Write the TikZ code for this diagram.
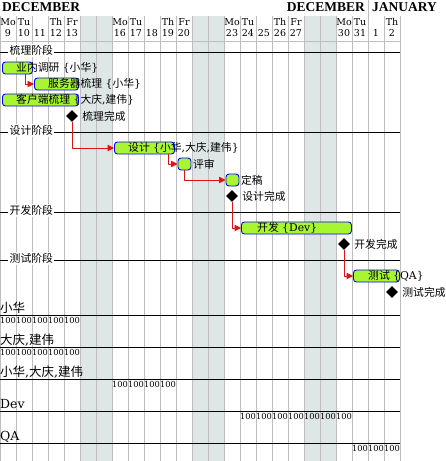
\documentclass[tikz,border=0pt]{standalone}
\usepackage{fontspec}
\setmainfont{DejaVu Serif}
\newfontfamily\cjk{Noto Sans CJK SC}
\newfontfamily\monthfont{Liberation Serif}
\usetikzlibrary{shapes.geometric,arrows.meta,positioning}

\definecolor{weekendgray}{RGB}{223,230,230}
\definecolor{gridgray}{RGB}{190,190,190}
\definecolor{barfill}{RGB}{168,245,50}
\definecolor{depred}{RGB}{220,20,20}

\begin{document}
\begin{tikzpicture}[x=1pt, y=-1pt, line join=round,
  gridline/.style={draw=gridgray, line width=0.8pt},
  weekend/.style={fill=weekendgray},
  rowline/.style={draw=black, line width=0.9pt},
  taskbar/.style={draw=blue, fill=barfill, line width=0.9pt, rounded corners=3pt,
    minimum height=12pt, inner sep=0pt, anchor=west},
  tasklabel/.style={font=\fontsize{10.8}{11}\selectfont, inner sep=0pt, anchor=west},
  phaselabel/.style={font=\cjk\fontsize{10.8}{11}\selectfont, fill=white, inner sep=1.5pt, anchor=west},
  reslabel/.style={font=\fontsize{12.5}{13}\selectfont, inner sep=0pt, anchor=base west},
  loadnum/.style={font=\fontsize{8.3}{9}\selectfont, inner sep=0pt, anchor=base},
  monthname/.style={font=\monthfont\bfseries\fontsize{13.5}{14}\selectfont, inner sep=0pt},
  dayhead/.style={font=\fontsize{9.5}{10}\selectfont, inner sep=0pt, anchor=base},
  milestone/.style={diamond, fill=black, minimum size=12pt, inner sep=0pt},
  dep/.style={draw=depred, line width=0.9pt, -{Triangle[length=6.5pt,width=6.5pt]}},
]
  \useasboundingbox (0,0) rectangle (445,461);

  % Weekend columns
  \foreach \c in {5,12,19}
    \fill[weekend] (16*\c,16) rectangle (16*\c+32,461);

  % Day grid
  \foreach \c in {0,...,25}
    \draw[gridline] (16*\c,16) -- (16*\c,461);
  \draw[gridline] (0,41) -- (400,41);
  \draw[gridline] (368,0) -- (368,16);

  % Month header
  \node[monthname, anchor=base west] (decl) at (2,11) {DECEMBER};
  \node[monthname, anchor=base east] (decr) at (365,11) {DECEMBER};
  \node[monthname, anchor=base west] (jan) at (372,11) {JANUARY};

  % Weekday and date header
  \foreach \c/\w in {0/Mo,1/Tu,3/Th,4/Fr,7/Mo,8/Tu,10/Th,11/Fr,
                     14/Mo,15/Tu,17/Th,18/Fr,21/Mo,22/Tu,24/Th}
    \node[dayhead] (wd\c) at (16*\c+8,25) {\w};
  \foreach \c/\d in {0/9,1/10,2/11,3/12,4/13,7/16,8/17,9/18,10/19,11/20,
                     14/23,15/24,16/25,17/26,18/27,21/30,22/31,23/1,24/2}
    \node[dayhead] (dn\c) at (16*\c+8,36.7) {\d};

  % Phase lines
  \draw[rowline] (0,52) -- (400,52);
  \draw[rowline] (0,132) -- (400,132);
  \draw[rowline] (0,212) -- (400,212);
  \draw[rowline] (0,260) -- (400,260);
  \node[phaselabel] (ph1) at (8,50.5) {梳理阶段};
  \node[phaselabel] (ph2) at (8,130.5) {设计阶段};
  \node[phaselabel] (ph3) at (8,210.5) {开发阶段};
  \node[phaselabel] (ph4) at (8,258.5) {测试阶段};

  % Tasks
  \node[taskbar, minimum width=30pt] (yndy) at (2,68) {};
  \node[taskbar, minimum width=44pt] (fwq) at (34,84) {};
  \node[taskbar, minimum width=76pt] (khd) at (2,100) {};
  \node[milestone] (slwc) at (72,116) {};
  \node[taskbar, minimum width=60pt] (sj) at (114,148) {};
  \node[taskbar, minimum width=13pt] (ps) at (177.5,164) {};
  \node[taskbar, minimum width=13pt] (dg) at (225.5,180) {};
  \node[milestone] (sjwc) at (232,196) {};
  \node[taskbar, minimum width=110pt] (kf) at (241,228) {};
  \node[milestone] (kfwc) at (344,244) {};
  \node[taskbar, minimum width=46pt] (cs) at (353,276) {};
  \node[milestone] (cswc) at (392,292) {};

  % Task labels
  \node[tasklabel] (yndyl) at ([xshift=14pt]yndy.west) {{\cjk 业内调研} \{{\cjk 小华}\}};
  \node[tasklabel] (fwql) at ([xshift=14pt]fwq.west) {{\cjk 服务器梳理} \{{\cjk 小华}\}};
  \node[tasklabel] (khdl) at ([xshift=14pt]khd.west) {{\cjk 客户端梳理} \{{\cjk 大庆},{\cjk 建伟}\}};
  \node[tasklabel] (slwcl) at ([xshift=4pt]slwc.east) {\cjk 梳理完成};
  \node[tasklabel] (sjl) at ([xshift=14pt]sj.west) {{\cjk 设计} \{{\cjk 小华},{\cjk 大庆},{\cjk 建伟}\}};
  \node[tasklabel] (psl) at ([xshift=1.5pt]ps.east) {\cjk 评审};
  \node[tasklabel] (dgl) at ([xshift=1.5pt]dg.east) {\cjk 定稿};
  \node[tasklabel] (sjwcl) at ([xshift=4pt]sjwc.east) {\cjk 设计完成};
  \node[tasklabel] (kfl) at ([xshift=16pt]kf.west) {{\cjk 开发} \{Dev\}};
  \node[tasklabel] (kfwcl) at ([xshift=4pt]kfwc.east) {\cjk 开发完成};
  \node[tasklabel] (csl) at ([xshift=15pt]cs.west) {{\cjk 测试} \{QA\}};
  \node[tasklabel] (cswcl) at ([xshift=4pt]cswc.east) {\cjk 测试完成};

  % Dependencies
  \draw[dep] ([xshift=-7pt]yndy.south east) |- (fwq.west);
  \draw[dep] (slwc.south) |- (sj.west);
  \draw[dep] ([xshift=-6pt]sj.south east) |- (ps.west);
  \draw[dep] (ps.south) |- (dg.west);
  \draw[dep] (sjwc.south) |- (kf.west);
  \draw[dep] (kfwc.south) |- (cs.west);

  % Resources
  \draw[rowline] (0,315) -- (400,315);
  \draw[rowline] (0,347) -- (400,347);
  \draw[rowline] (0,379) -- (400,379);
  \draw[rowline] (0,411) -- (400,411);
  \draw[rowline] (0,443) -- (400,443);
  \node[reslabel] (r1) at (0,312) {\cjk 小华};
  \node[reslabel] (r2) at (0,344) {{\cjk 大庆},{\cjk 建伟}};
  \node[reslabel] (r3) at (0,376) {{\cjk 小华},{\cjk 大庆},{\cjk 建伟}};
  \node[reslabel] (r4) at (0,408) {Dev};
  \node[reslabel] (r5) at (0,440) {QA};

  % Resource load
  \foreach \c in {0,...,4}
    \node[loadnum] (la\c) at (16*\c+8,323.7) {100};
  \foreach \c in {0,...,4}
    \node[loadnum] (lb\c) at (16*\c+8,355.7) {100};
  \foreach \c in {7,...,10}
    \node[loadnum] (lc\c) at (16*\c+8,387.7) {100};
  \foreach \c in {15,...,21}
    \node[loadnum] (ld\c) at (16*\c+8,419.7) {100};
  \foreach \c in {22,...,24}
    \node[loadnum] (le\c) at (16*\c+8,451.7) {100};
\end{tikzpicture}
\end{document}
